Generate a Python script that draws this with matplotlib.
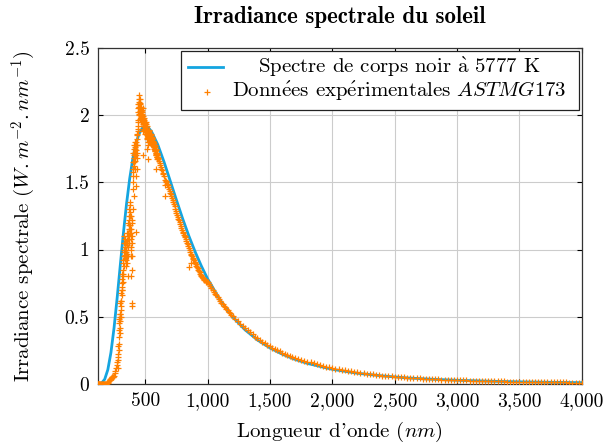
import matplotlib
matplotlib.use("Agg")
import matplotlib.pyplot as plt
from matplotlib.patches import Rectangle
from matplotlib.lines import Line2D
from matplotlib.ticker import FuncFormatter

# spectre de corps noir
wl_bb = [120, 150, 175, 200, 225, 250, 275, 300, 325, 350, 375, 400, 425, 450,
         475, 500, 525, 550, 600, 650, 700, 750, 800, 850, 900, 950, 1000, 1100,
         1200, 1300, 1400, 1500, 1600, 1700, 1800, 2000, 2200, 2400, 2600, 2800,
         3000, 3250, 3500, 3750, 4000]
irr_bb = [0.0003, 0.007, 0.035, 0.106, 0.234, 0.418, 0.642, 0.884, 1.123, 1.340,
          1.525, 1.674, 1.786, 1.860, 1.901, 1.915, 1.906, 1.878, 1.781, 1.653,
          1.511, 1.368, 1.229, 1.100, 0.983, 0.877, 0.782, 0.624, 0.499, 0.403,
          0.327, 0.268, 0.221, 0.183, 0.153, 0.109, 0.080, 0.060, 0.045, 0.035,
          0.0275, 0.0207, 0.0159, 0.0124, 0.0098]

# donnees experimentales
wl_uv = [120, 122, 125, 127, 130, 135, 140, 145, 150, 155, 160, 165, 170, 175,
         180, 185, 190, 195, 200, 205, 210, 215, 220, 225, 230, 235, 240, 245,
         250, 255, 260, 265, 270, 275]
irr_uv = [0.0001, 0.0001, 0.0001, 0.0001, 0.0001, 0.0001, 0.0001, 0.0001,
          0.0001, 0.0001, 0.0002, 0.0005, 0.001, 0.001, 0.002, 0.003, 0.004,
          0.006, 0.008, 0.012, 0.02, 0.03, 0.04, 0.045, 0.05, 0.05, 0.05, 0.055,
          0.06, 0.08, 0.10, 0.12, 0.14, 0.16]

wl_vis = [280, 283, 285, 288, 290, 292, 295, 297, 300, 302, 305, 307, 310, 312,
          315, 317, 320, 322, 325, 327, 330, 332, 335, 337, 340, 342, 345, 347,
          350, 352, 355, 357, 358, 360, 362, 365, 367, 370, 372, 374, 375, 377,
          380, 382, 384, 385, 387, 388, 390, 392, 393, 395, 397, 398, 400, 402,
          404, 405, 407, 409, 410, 412, 414, 415, 417, 419, 420, 422, 425, 427,
          428, 430, 432, 434, 436, 438, 440, 442, 444, 446, 448, 450, 452, 454,
          456, 458, 460, 462, 464, 466, 468, 470, 472, 474, 476, 478, 480, 482,
          484, 486, 488, 490, 492, 494, 496, 498, 500, 502, 504, 506, 508, 510,
          512, 515, 517, 518, 520, 522, 525, 527, 530, 533, 535, 538, 540, 543,
          545, 548, 550, 553, 555, 558, 560, 563, 565, 568, 570, 573, 575, 578,
          580, 583, 585, 588, 590, 593, 595, 598, 600]
irr_vis = [0.22, 0.18, 0.28, 0.25, 0.45, 0.40, 0.50, 0.42, 0.52, 0.55, 0.62, 0.58,
           0.70, 0.66, 0.78, 0.72, 0.80, 0.85, 0.92, 0.88, 1.05, 1.00, 0.98, 0.93,
           1.05, 0.95, 1.00, 0.92, 1.05, 0.90, 1.07, 0.95, 0.80, 1.02, 1.08, 1.12,
           1.18, 1.25, 1.10, 1.33, 1.15, 1.28, 1.18, 0.95, 1.08, 0.80, 1.12, 1.00,
           1.22, 1.10, 0.60, 0.95, 0.58, 1.30, 1.55, 1.65, 1.72, 1.50, 1.70, 1.78,
           1.40, 1.75, 1.80, 1.68, 1.72, 1.60, 1.75, 1.70, 1.78, 1.47, 1.13, 1.60,
           1.72, 1.85, 1.78, 1.90, 1.95, 1.88, 2.05, 2.00, 2.15, 2.08, 2.10, 2.02,
           2.12, 2.05, 2.08, 2.00, 2.06, 1.98, 2.03, 1.96, 2.04, 1.98, 2.02, 1.95,
           2.05, 1.99, 1.92, 1.70, 1.95, 1.98, 1.92, 1.96, 1.90, 1.94, 1.92, 1.88,
           1.95, 1.90, 1.93, 1.88, 1.92, 1.85, 1.75, 1.82, 1.84, 1.67, 1.88, 1.80,
           1.88, 1.85, 1.86, 1.82, 1.84, 1.81, 1.84, 1.80, 1.83, 1.81, 1.82, 1.78,
           1.79, 1.77, 1.79, 1.75, 1.77, 1.76, 1.76, 1.73, 1.74, 1.71, 1.72, 1.60,
           1.70, 1.69, 1.69, 1.67, 1.68]

# points intermediaires de la zone bruitee
wl_vis2 = [281, 284, 286, 289, 291, 294, 296, 299, 301, 304, 306, 309, 311, 314,
           316, 319, 321, 324, 326, 329, 331, 334, 336, 339, 341, 344, 346, 349,
           351, 354, 356, 359, 361, 364, 366, 369, 371, 373, 376, 379, 381, 383,
           386, 389, 391, 394, 396, 399, 401, 403, 406, 408, 411, 413, 416, 418,
           421, 423, 426, 429, 431, 433, 435, 437, 439, 441, 443, 445, 447, 449,
           451, 453, 455, 457, 459, 461, 463, 465, 467, 469, 471, 473, 475, 477,
           479, 481, 483, 485, 487, 489, 491, 493, 495, 497, 499, 501, 503, 505,
           507, 509, 511, 513, 514, 516, 519, 521, 523, 524, 526, 528, 529, 531,
           532, 534, 536, 537, 539, 541, 542, 544, 546, 547, 549, 551, 552, 554,
           556, 557, 559, 561, 562, 564, 566, 567, 569, 571, 572, 574, 576, 577,
           579, 581, 582, 584, 586, 587, 589, 591, 592, 594, 596, 597, 599]
irr_vis2 = [0.12, 0.20, 0.30, 0.35, 0.48, 0.38, 0.52, 0.47, 0.60, 0.50, 0.68,
            0.62, 0.75, 0.70, 0.82, 0.76, 0.90, 0.82, 0.98, 0.95, 1.10, 1.02,
            0.96, 1.08, 1.00, 0.88, 1.05, 0.98, 1.12, 0.97, 1.03, 1.10, 0.95,
            1.20, 1.05, 1.30, 1.15, 1.22, 1.35, 1.12, 1.25, 1.02, 1.15, 1.25,
            1.05, 0.85, 1.20, 1.45, 1.60, 1.58, 1.68, 1.62, 1.72, 1.65, 1.76,
            1.70, 1.66, 1.74, 1.80, 1.55, 1.68, 1.78, 1.82, 1.86, 1.92, 2.02,
            1.96, 2.08, 2.06, 2.01, 2.12, 2.06, 1.97, 2.09, 2.03, 2.05, 1.95,
            2.03, 2.01, 1.99, 2.00, 1.97, 1.99, 2.01, 1.97, 1.93, 1.96, 1.88,
            1.92, 1.90, 1.95, 1.89, 1.93, 1.86, 1.91, 1.95, 1.90, 1.86, 1.92,
            1.90, 1.86, 1.89, 1.83, 1.86, 1.80, 1.87, 1.85, 1.78, 1.86, 1.84,
            1.89, 1.85, 1.82, 1.87, 1.83, 1.86, 1.80, 1.85, 1.83, 1.85, 1.82,
            1.84, 1.86, 1.81, 1.83, 1.82, 1.80, 1.84, 1.80, 1.78, 1.81, 1.79,
            1.80, 1.77, 1.79, 1.76, 1.78, 1.77, 1.75, 1.78, 1.74, 1.76, 1.73,
            1.75, 1.72, 1.74, 1.70, 1.72, 1.70, 1.71, 1.69, 1.70, 1.68]

wl_nir = [605, 610, 615, 620, 625, 630, 635, 640, 645, 650, 655, 656, 660, 665,
          670, 675, 680, 685, 690, 695, 700, 705, 710, 715, 720, 725, 730, 735,
          740, 745, 750, 755, 760, 765, 770, 775, 780, 785, 790, 795, 800, 805,
          810, 815, 820, 825, 830, 835, 840, 845, 850, 854, 855, 860, 865, 866,
          870, 875, 880, 885, 890, 895, 900, 905, 910, 915, 920, 925, 930, 935,
          940, 945, 950, 955, 960, 965, 970, 975, 980, 985, 990, 995, 1000]
irr_nir = [1.67, 1.66, 1.645, 1.63, 1.615, 1.60, 1.59, 1.57, 1.56, 1.55, 1.48,
           1.40, 1.52, 1.51, 1.50, 1.49, 1.48, 1.465, 1.45, 1.435, 1.42, 1.41,
           1.40, 1.385, 1.37, 1.355, 1.34, 1.32, 1.30, 1.285, 1.27, 1.255, 1.24,
           1.23, 1.22, 1.205, 1.19, 1.175, 1.16, 1.145, 1.13, 1.12, 1.11, 1.10,
           1.09, 1.075, 1.06, 1.05, 1.04, 1.025, 1.01, 0.87, 1.00, 0.98, 0.97,
           0.90, 0.96, 0.95, 0.94, 0.93, 0.92, 0.91, 0.90, 0.89, 0.88, 0.87,
           0.86, 0.85, 0.84, 0.83, 0.82, 0.81, 0.80, 0.795, 0.79, 0.785, 0.78,
           0.775, 0.77, 0.765, 0.76, 0.757, 0.755]

wl_swir = [1010, 1020, 1030, 1040, 1050, 1060, 1070, 1080, 1090, 1100, 1110,
           1120, 1130, 1140, 1150, 1160, 1170, 1180, 1190, 1200, 1220, 1240,
           1260, 1280, 1300, 1320, 1340, 1360, 1380, 1400, 1420, 1440, 1460,
           1480, 1500, 1520, 1540, 1560, 1580, 1600, 1620, 1640, 1660, 1680,
           1700]
irr_swir = [0.740, 0.725, 0.712, 0.698, 0.685, 0.672, 0.658, 0.645, 0.630,
            0.615, 0.603, 0.592, 0.580, 0.569, 0.558, 0.547, 0.536, 0.526,
            0.515, 0.505, 0.486, 0.467, 0.448, 0.430, 0.413, 0.398, 0.383,
            0.368, 0.353, 0.339, 0.327, 0.314, 0.302, 0.291, 0.280, 0.270,
            0.260, 0.251, 0.242, 0.233, 0.225, 0.217, 0.209, 0.202, 0.195]

wl_ir = list(range(1725, 4001, 25))
irr_ir = [0.188, 0.181, 0.174, 0.167, 0.161, 0.155, 0.149, 0.140, 0.134,
          0.128, 0.123, 0.118, 0.113, 0.109, 0.105, 0.101, 0.097, 0.093, 0.090,
          0.086, 0.083, 0.080, 0.077, 0.074, 0.071, 0.068, 0.066, 0.063, 0.061,
          0.059, 0.057, 0.055, 0.053, 0.051, 0.049, 0.047, 0.046, 0.044, 0.043,
          0.041, 0.040, 0.038, 0.037, 0.036, 0.035, 0.034, 0.033, 0.032, 0.031,
          0.030, 0.029, 0.028, 0.0275, 0.027, 0.026, 0.025, 0.0245, 0.024, 0.023,
          0.0225, 0.022, 0.021, 0.0205, 0.020, 0.0195, 0.019, 0.0185, 0.018,
          0.0175, 0.017, 0.0165, 0.016, 0.0157, 0.0153, 0.015, 0.0146, 0.0143,
          0.014, 0.0136, 0.0133, 0.013, 0.0127, 0.0124, 0.0121, 0.0118, 0.0115,
          0.0112, 0.0109, 0.0106, 0.0103, 0.010, 0.0098]

wl_exp = wl_uv + wl_vis + wl_vis2 + wl_nir + wl_swir + wl_ir
irr_exp = irr_uv + irr_vis + irr_vis2 + irr_nir + irr_swir + irr_ir

blue = "#14a5e0"
orange = "#ff8000"
fs = 15

plt.rcParams["font.family"] = ["cmr10", "DejaVu Serif"]
plt.rcParams["mathtext.fontset"] = "cm"
plt.rcParams["axes.formatter.use_mathtext"] = True

fig = plt.figure(figsize=(6.15, 4.47), dpi=100)
ax = fig.add_axes([0.159, 0.141, 0.787, 0.752])

ax.plot(wl_bb, irr_bb, color=blue, lw=2.0, zorder=2)
ax.plot(wl_exp, irr_exp, ls="none", marker="+", ms=4, mew=0.9,
        color=orange, zorder=3)

ax.set_xlim(119.5, 4000)
ax.set_ylim(0, 2.5)
ax.set_xticks([500, 1000, 1500, 2000, 2500, 3000, 3500, 4000])
ax.set_yticks([0, 0.5, 1, 1.5, 2, 2.5])
ax.xaxis.set_major_formatter(FuncFormatter(lambda v, p: f"{v:,.0f}"))
ax.yaxis.set_major_formatter(FuncFormatter(lambda v, p: f"{v:g}"))
ax.tick_params(direction="in", top=True, right=True, length=3.5,
               width=0.8, labelsize=14, pad=6)
ax.grid(True, color="#cccccc", lw=0.8)
ax.set_axisbelow(True)
for s in ax.spines.values():
    s.set_linewidth(0.9)
    s.set_color("#333333")

ax.set_title("Irradiance spectrale du soleil", fontsize=16.5,
             family=["cmb10", "DejaVu Serif"], pad=18)
ax.set_xlabel(r"Longueur d'onde ($nm$)", fontsize=fs, labelpad=7)
ax.set_ylabel(r"Irradiance spectrale ($W.m^{-2}.nm^{-1}$)", fontsize=fs,
              labelpad=19)

# legende
tr = ax.transAxes
ax.add_patch(Rectangle((0.171, 0.815), 0.823, 0.176, transform=tr,
                       fill=True, facecolor="white", edgecolor="#222222",
                       lw=0.9, zorder=5))
ax.add_line(Line2D([0.186, 0.258], [0.943, 0.943], transform=tr,
                   color=blue, lw=2.0, zorder=6))
ax.add_line(Line2D([0.225], [0.870], transform=tr, ls="none", marker="+",
                   ms=4, mew=0.9, color=orange, zorder=6))
ax.text(0.622, 0.943, r"Spectre de corps noir $\grave{\mathrm{a}}$ 5777 K",
        transform=tr, ha="center", va="center", fontsize=fs, zorder=6)
ax.text(0.622, 0.870,
        r"Donn$\acute{\mathrm{e}}$es exp$\acute{\mathrm{e}}$rimentales $ASTMG173$",
        transform=tr, ha="center", va="center", fontsize=fs, zorder=6)

fig.savefig("out.png", dpi=100)
